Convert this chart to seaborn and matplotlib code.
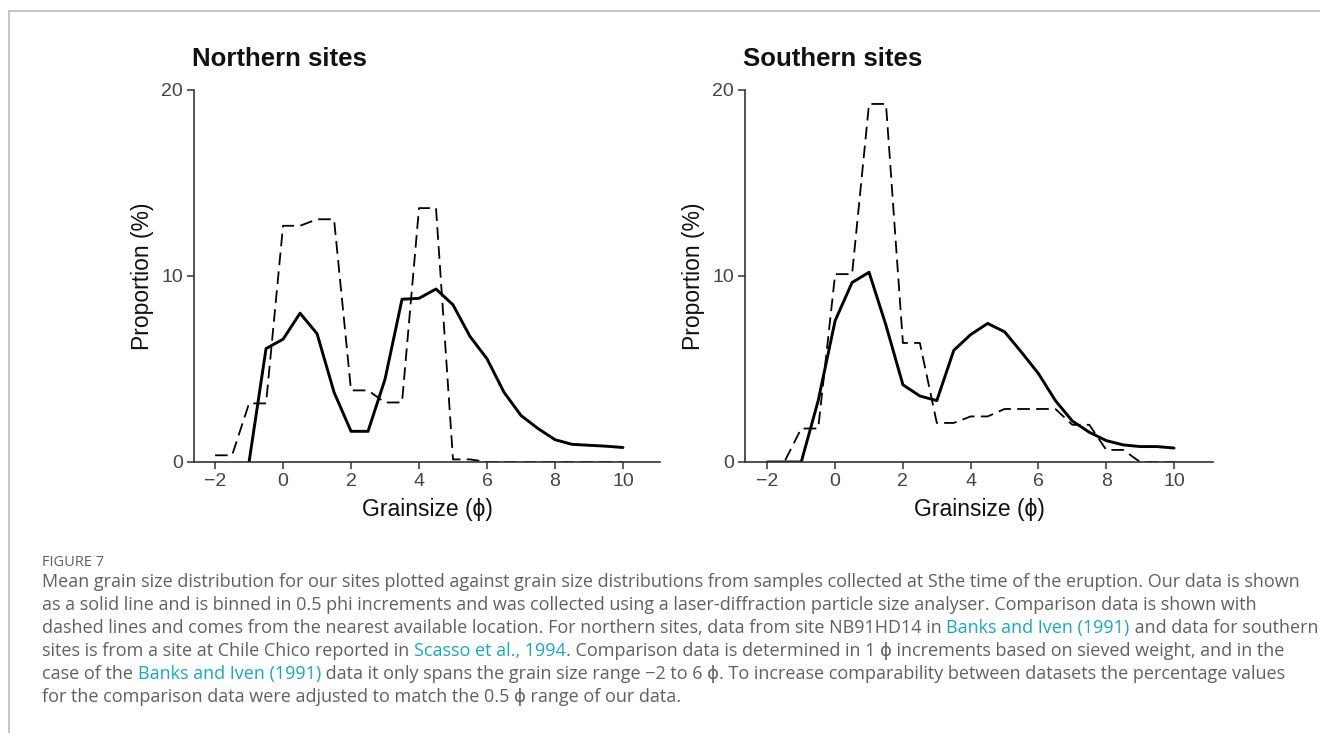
import numpy as np
import pandas as pd
import seaborn as sns
import matplotlib
matplotlib.use("Agg")
import matplotlib.pyplot as plt
from matplotlib.lines import Line2D

# ---------------- data ----------------
grain_north_ours = [-1, -0.5, 0, 0.5, 1, 1.5, 2, 2.5, 3, 3.5, 4, 4.5, 5, 5.5, 6, 6.5, 7, 7.5, 8, 8.5, 9, 9.5, 10]
north_ours = [0, 6.1, 6.6, 8.0, 6.9, 3.75, 1.65, 1.65, 4.45, 8.75, 8.8, 9.3, 8.45, 6.75, 5.55, 3.75, 2.5, 1.8, 1.2, 0.95, 0.9, 0.85, 0.78]

grain_north_comp = [-2, -1.5, -1, -0.5, 0, 0.5, 1, 1.5, 2, 2.5, 3, 3.5, 4, 4.5, 5, 5.5, 6, 6.5, 7, 7.5, 8, 8.5, 9, 9.5, 10]
north_comp = [0.36, 0.36, 3.15, 3.15, 12.7, 12.7, 13.05, 13.05, 3.85, 3.85, 3.2, 3.2, 13.65, 13.65, 0.14, 0.14, 0, 0, 0, 0, 0, 0, 0, 0, 0]

grain_south_ours = [-2, -1.5, -1, -0.5, 0, 0.5, 1, 1.5, 2, 2.5, 3, 3.5, 4, 4.5, 5, 5.5, 6, 6.5, 7, 7.5, 8, 8.5, 9, 9.5, 10]
south_ours = [0, 0, 0, 3.3, 7.6, 9.65, 10.2, 7.35, 4.15, 3.55, 3.3, 6.0, 6.85, 7.45, 7.0, 5.9, 4.75, 3.3, 2.2, 1.6, 1.15, 0.92, 0.83, 0.83, 0.75]

grain_south_comp = [-2, -1.5, -1, -0.5, 0, 0.5, 1, 1.5, 2, 2.5, 3, 3.5, 4, 4.5, 5, 5.5, 6, 6.5, 7, 7.5, 8, 8.5, 9, 9.5, 10]
south_comp = [0, 0, 1.8, 1.8, 10.1, 10.1, 19.25, 19.25, 6.4, 6.4, 2.1, 2.1, 2.45, 2.45, 2.85, 2.85, 2.85, 2.85, 2.0, 2.0, 0.65, 0.65, 0, 0, 0]

panel_titles = ["Northern sites", "Southern sites"]
x_ticks = [-2, 0, 2, 4, 6, 8, 10]
y_ticks = [0, 10, 20]
x_label = "Grainsize (\u03d5)"
y_label = "Proportion (%)"

# ---------------- style ----------------
sns.set_theme(style="ticks")
plt.rcParams["font.family"] = ["Liberation Sans", "DejaVu Sans"]

W, H = 1320, 733
fig = plt.figure(figsize=(W / 100, H / 100), dpi=100)

def frac_box(l, t, r, b):
    return [l / W, 1 - b / H, (r - l) / W, (b - t) / H]

axes = [fig.add_axes(frac_box(194, 90, 660, 462)),
        fig.add_axes(frac_box(745, 90, 1213, 462))]
xlims = [(-2.62, 11.09), (-2.66, 11.15)]

panels = [
    (grain_north_ours, north_ours, grain_north_comp, north_comp),
    (grain_south_ours, south_ours, grain_south_comp, south_comp),
]

for ax, (gx, gy, cx, cy), title, xl, tx in zip(axes, panels, panel_titles, xlims, [192, 743]):
    df_o = pd.DataFrame({"g": gx, "p": gy})
    df_c = pd.DataFrame({"g": cx, "p": cy})
    sns.lineplot(data=df_c, x="g", y="p", ax=ax, color="black", lw=1.3,
                 dashes=False, linestyle=(0, (7, 3.5)))
    sns.lineplot(data=df_o, x="g", y="p", ax=ax, color="black", lw=2.1)
    ax.set_xlim(*xl)
    ax.set_ylim(0, 20)
    ax.set_xticks(x_ticks)
    ax.set_xticklabels(["\u2212" + str(abs(v)) if v < 0 else str(v) for v in x_ticks])
    ax.set_yticks(y_ticks)
    ax.tick_params(axis="both", length=5, width=1.1, color="#333333",
                   labelsize=14, labelcolor="#444444", pad=3)
    for s in ["left", "bottom"]:
        ax.spines[s].set_color("#333333")
        ax.spines[s].set_linewidth(1.2)
    sns.despine(ax=ax)
    ax.set_xlabel(x_label, fontsize=16.5, color="#111111", labelpad=6)
    ax.set_ylabel(y_label, fontsize=16.5, color="#111111", labelpad=5)
    fig.text(tx / W, 1 - 66 / H, title, fontsize=18.5, fontweight="bold",
             color="#111111", ha="left", va="baseline")

# ---------------- frame ----------------
fig.add_artist(Line2D([9 / W, 9 / W], [0, 1 - 11 / H], color="#bbbbbb", lw=1.2))
fig.add_artist(Line2D([9 / W, 1], [1 - 11 / H, 1 - 11 / H], color="#bbbbbb", lw=1.2))

# ---------------- caption ----------------
cap_font = ["Open Sans", "DejaVu Sans"]
gray = "#606060"
link = "#1aa6c2"
fig.text(42 / W, 1 - 563 / H, "FIGURE 7", fontsize=10.5, color=gray,
         family=cap_font, va="center", ha="left")

lines = [
    [("Mean grain size distribution for our sites plotted against grain size distributions from samples collected at Sthe time of the eruption. Our data is shown", gray)],
    [("as a solid line and is binned in 0.5 phi increments and was collected using a laser-diffraction particle size analyser. Comparison data is shown with", gray)],
    [("dashed lines and comes from the nearest available location. For northern sites, data from site NB91HD14 in ", gray),
     ("Banks and Iven (1991)", link), (" and data for southern", gray)],
    [("sites is from a site at Chile Chico reported in ", gray), ("Scasso et al., 1994", link),
     (". Comparison data is determined in 1 \u03d5 increments based on sieved weight, and in the", gray)],
    [("case of the ", gray), ("Banks and Iven (1991)", link),
     (" data it only spans the grain size range \u22122 to 6 \u03d5. To increase comparability between datasets the percentage values", gray)],
    [("for the comparison data were adjusted to match the 0.5 \u03d5 range of our data.", gray)],
]

renderer = fig.canvas.get_renderer()
cap_size = 12.95

def text_width(s):
    t = fig.text(0, 0, s + "x", fontsize=cap_size, family=cap_font)
    w1 = t.get_window_extent(renderer).width
    t.remove()
    t = fig.text(0, 0, "x", fontsize=cap_size, family=cap_font)
    w2 = t.get_window_extent(renderer).width
    t.remove()
    return w1 - w2

y0 = 582
for i, segs in enumerate(lines):
    y = y0 + i * 23
    prefix = ""
    for txt, col in segs:
        x = 42 + text_width(prefix) if prefix else 42
        fig.text(x / W, 1 - y / H, txt, fontsize=cap_size, color=col,
                 family=cap_font, va="center", ha="left")
        prefix += txt

fig.savefig("out.png", dpi=100)
